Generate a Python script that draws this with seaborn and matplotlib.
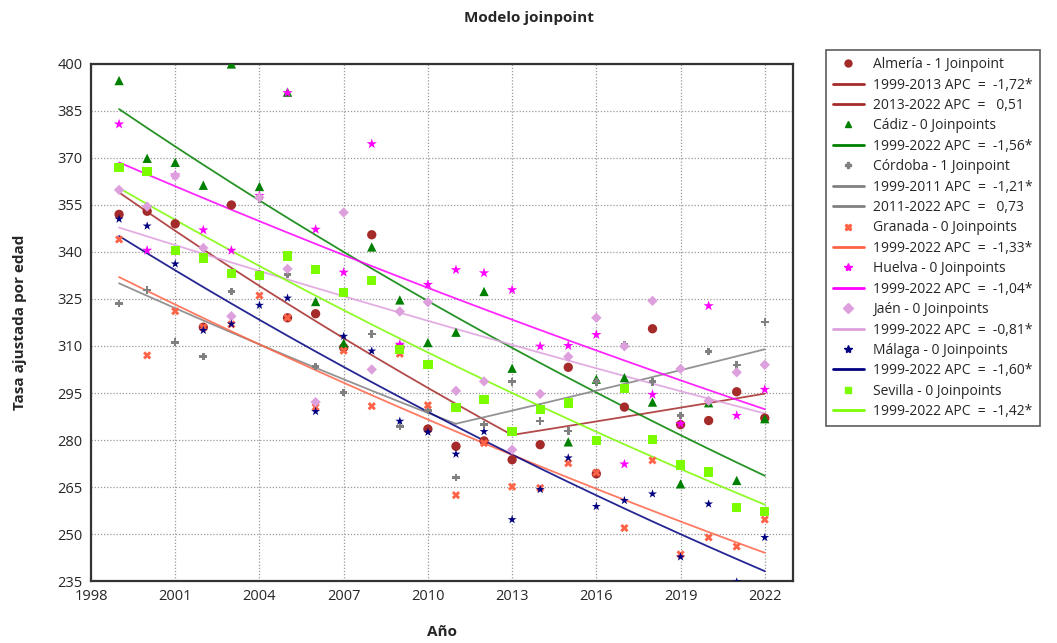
import numpy as np
import pandas as pd
import seaborn as sns
import matplotlib
matplotlib.use("Agg")
import matplotlib.pyplot as plt
from matplotlib.lines import Line2D

years = list(range(1999, 2023))

almeria = [352, 353, 349, 316, 355, 332.6, 319, 320.3, 309.5, 345.5, 309.5, 283.5,
           278, 279.7, 273.7, 278.5, 303.2, 269.2, 290.5, 315.5, 284.9, 286.2, 295.4, 287]
cadiz = [394.7, 369.9, 368.6, 361.3, 400, 360.9, 391, 324.2, 310.9, 341.6, 324.7, 311.1,
         314.4, 327.4, 302.9, 290, 279.4, 299.4, 299.9, 292.1, 266, 291.9, 267.1, 286.8]
cordoba = [323.5, 327.8, 311.2, 306.6, 327.4, 357, 332.8, 303.4, 295.2, 313.8, 284.3, 289.5,
           268, 285, 298.6, 286, 282.8, 298.6, 310.4, 298.6, 287.8, 308.2, 304, 317.6]
granada = [344, 307, 321.1, 316, 316.9, 326.1, 319, 290.5, 308.5, 290.8, 307.5, 291.1,
           262.4, 279, 265.1, 264.7, 272.6, 269.6, 251.9, 273.5, 243.5, 248.9, 246, 254.6]
huelva = [380.8, 340.5, 364.5, 347, 340.5, 358, 390.8, 347.2, 333.5, 374.5, 310.5, 329.6,
          334.3, 333.3, 327.9, 309.9, 310.1, 313.6, 272.3, 294.5, 285.2, 322.8, 287.8, 296.1]
jaen = [359.8, 354.5, 364.3, 341.3, 319.5, 357.4, 334.6, 292.1, 352.6, 302.5, 321, 324,
        295.7, 298.7, 276.9, 294.7, 306.6, 319, 309.9, 324.4, 302.7, 292.5, 301.6, 304]
malaga = [350.5, 348.3, 336.2, 315, 317, 323, 325.3, 289.1, 313.1, 308.4, 286, 282.5,
          275.5, 282.7, 254.6, 264.2, 274.3, 258.8, 260.7, 262.8, 242.7, 259.6, 234.7, 248.9]
sevilla = [367, 365.7, 340.5, 338.1, 333.2, 332.4, 338.7, 334.4, 327, 330.8, 308.8, 304,
           290.3, 293, 282.8, 289.8, 291.8, 279.8, 296.4, 280.1, 272, 269.8, 258.5, 257.2]

provincias = ["Almería", "Cádiz", "Córdoba", "Granada", "Huelva", "Jaén", "Málaga", "Sevilla"]
series = [almeria, cadiz, cordoba, granada, huelva, jaen, malaga, sevilla]
joinpoints = ["1 Joinpoint", "0 Joinpoints", "1 Joinpoint", "0 Joinpoints",
              "0 Joinpoints", "0 Joinpoints", "0 Joinpoints", "0 Joinpoints"]

# joinpoint segments: provincia, inicio, fin, valor modelo al inicio, APC (%), texto APC
segmentos = [
    ("Almería", 1999, 2013, 359.0, -1.72, "-1,72*"),
    ("Almería", 2013, 2022, 281.6, 0.51, " 0,51"),
    ("Cádiz", 1999, 2022, 385.6, -1.56, "-1,56*"),
    ("Córdoba", 1999, 2011, 330.0, -1.21, "-1,21*"),
    ("Córdoba", 2011, 2022, 285.2, 0.73, " 0,73"),
    ("Granada", 1999, 2022, 332.0, -1.33, "-1,33*"),
    ("Huelva", 1999, 2022, 368.6, -1.04, "-1,04*"),
    ("Jaén", 1999, 2022, 347.8, -0.81, "-0,81*"),
    ("Málaga", 1999, 2022, 345.1, -1.60, "-1,60*"),
    ("Sevilla", 1999, 2022, 360.4, -1.42, "-1,42*"),
]

colores = {"Almería": "#A52A2A", "Cádiz": "#008000", "Córdoba": "#808080",
           "Granada": "#FF6347", "Huelva": "#FF00FF", "Jaén": "#DDA0DD",
           "Málaga": "#000080", "Sevilla": "#7CFC00"}
marcadores = {"Almería": "o", "Cádiz": "^", "Córdoba": "P", "Granada": "X",
              "Huelva": "*", "Jaén": "D", "Málaga": "*", "Sevilla": "s"}
tamanos = {"Almería": 45, "Cádiz": 45, "Córdoba": 30, "Granada": 35,
           "Huelva": 60, "Jaén": 28, "Málaga": 45, "Sevilla": 45}

df = pd.DataFrame([(p, y, v) for p, s in zip(provincias, series) for y, v in zip(years, s)],
                  columns=["provincia", "anio", "tasa"])

filas = []
for i, (p, a, b, v0, apc, _) in enumerate(segmentos):
    for y in range(a, b + 1):
        filas.append((i, p, y, v0 * (1 + apc / 100) ** (y - a)))
df_mod = pd.DataFrame(filas, columns=["seg", "provincia", "anio", "tasa"])

sns.set_style("white")
plt.rcParams['font.family'] = ['Open Sans', 'DejaVu Sans']

fig = plt.figure(figsize=(10.57, 6.43), dpi=100)
ax = fig.add_axes([0.0861, 0.0964, 0.664, 0.8041])

for p in provincias:
    sns.scatterplot(data=df[df.provincia == p], x="anio", y="tasa", ax=ax,
                    color=colores[p], marker=marcadores[p], s=tamanos[p],
                    edgecolor="none", legend=False, zorder=3)

for i, (p, a, b, v0, apc, _) in enumerate(segmentos):
    sns.lineplot(data=df_mod[df_mod.seg == i], x="anio", y="tasa", ax=ax,
                 color=colores[p], linewidth=1.3, alpha=0.85, legend=False, zorder=2)

ax.set_xlim(1998, 2023)
ax.set_ylim(235, 400)
ax.set_xticks(range(1998, 2023, 3))
ax.set_yticks(range(235, 401, 15))
ax.grid(True, color="#999999", linestyle=(0, (1, 1.5)), linewidth=0.9)
ax.tick_params(length=0, labelsize=10.5, pad=6)
for sp in ax.spines.values():
    sp.set_color("#333333")
    sp.set_linewidth(1.6)

ax.set_xlabel("Año", fontsize=11, fontweight="bold", labelpad=15)
ax.set_ylabel("Tasa ajustada por edad", fontsize=11, fontweight="bold", labelpad=22)
fig.text(0.5, 0.972, "Modelo joinpoint", ha="center", va="center",
         fontsize=11, fontweight="bold")

handles, labels = [], []
for p, jp in zip(provincias, joinpoints):
    handles.append(Line2D([], [], linestyle="none", marker=marcadores[p],
                          color=colores[p], markersize=5 if p not in ("Huelva", "Málaga") else 6))
    labels.append(f"{p} - {jp}")
    for (q, a, b, v0, apc, txt) in segmentos:
        if q == p:
            handles.append(Line2D([], [], color=colores[p], linewidth=2))
            labels.append(f"{a}-{b} APC  =  {txt}")

leg = fig.legend(handles, labels, loc="upper left", bbox_to_anchor=(0.7815, 0.922),
                 fontsize=10, frameon=True, fancybox=False, edgecolor="#333333",
                 handlelength=2.2, labelspacing=0.39, borderpad=0.5, handletextpad=0.7,
                 borderaxespad=0)
leg.get_frame().set_linewidth(1.2)

fig.savefig("out.png", dpi=100)
